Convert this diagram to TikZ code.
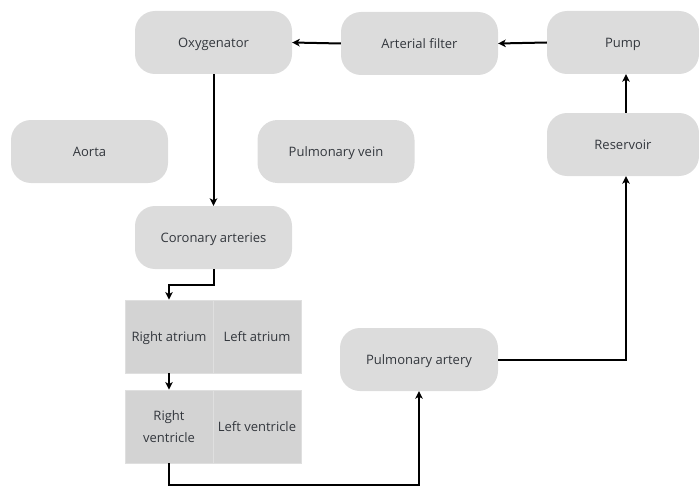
\documentclass[tikz,border=0pt]{standalone}
\usepackage{fontspec}
\setmainfont{Open Sans}
\usetikzlibrary{arrows.meta}
\definecolor{boxfill}{HTML}{DCDCDC}
\definecolor{rectfill}{HTML}{D3D3D3}
\definecolor{rectline}{HTML}{DFDFDF}
\definecolor{txt}{HTML}{33373D}
\tikzset{
  rbox/.style={fill=boxfill, draw=none, rounded corners=20pt, minimum width=157pt, minimum height=63pt, text=txt, font=\fontsize{13}{15}\selectfont, inner sep=0pt, text depth=0pt},
  rcell/.style={fill=rectfill, draw=rectline, line width=0.8pt, minimum width=88pt, minimum height=73pt, text=txt, font=\fontsize{13}{22}\selectfont, inner sep=0pt, align=center},
  onecell/.style={rcell, text depth=0pt},
  conn/.style={line width=2pt, -{Stealth[length=7.5pt,width=7.5pt,inset=2pt]}},
}
\begin{document}
\begin{tikzpicture}[x=1pt,y=-1pt]
\useasboundingbox (0,0) rectangle (699,487);
\node[rbox] (oxy) at (213.5,42.5) {Oxygenator};
\node[rbox] (filt) at (419.5,43.5) {Arterial filter};
\node[rbox, minimum width=152pt] (pump) at (623,42.5) {Pump};
\node[rbox] (aorta) at (89.5,151.5) {Aorta};
\node[rbox] (pvein) at (336,151.5) {Pulmonary vein};
\node[rbox, minimum width=152pt] (res) at (623,144.5) {Reservoir};
\node[rbox] (cor) at (213.5,237.5) {Coronary arteries};
\node[onecell] (ra) at (169,336.5) {Right atrium};
\node[onecell] (la) at (257,336.5) {Left atrium};
\node[rcell] (rv) at (169,426.5) {Right\\ventricle};
\node[onecell] (lv) at (257,426.5) {Left ventricle};
\node[rbox, minimum width=158pt] (part) at (419,359.5) {Pulmonary artery};
\coordinate (c1) at (213.5,285);
\coordinate (c2) at (169,285);
\coordinate (c3) at (169,485);
\coordinate (c4) at (419,485);
\coordinate (c5) at (626,359.5);
\draw[conn] (pump.west) -- (filt.east);
\draw[conn] (filt.west) -- (oxy.east);
\draw[conn] (oxy.south) -- (cor.north);
\draw[conn] (cor.south) -- (c1) -- (c2) -- (ra.north);
\draw[conn] (ra.south) -- (rv.north);
\draw[conn] (rv.south) -- (c3) -- (c4) -- (part.south);
\draw[conn] (part.east) -- (c5) -- (res.south -| c5);
\draw[conn] (res.north -| c5) -- (pump.south -| c5);
\end{tikzpicture}
\end{document}
